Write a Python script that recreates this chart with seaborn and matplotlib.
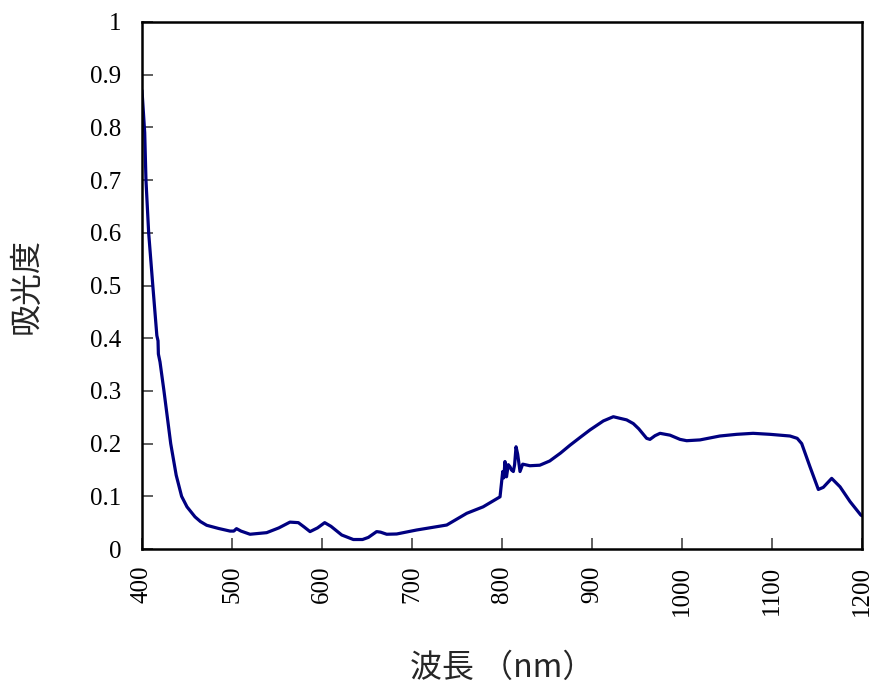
import matplotlib
matplotlib.use("Agg")
import matplotlib.pyplot as plt
import seaborn as sns
import pandas as pd

wavelength = [400, 401.5, 403, 404.4, 407.4, 412, 416.5, 417.8, 418.2, 420, 424.4,
              431.9, 438, 444, 450, 458.9, 465, 471.9, 485, 497.8, 502, 505, 510,
              520, 538.5, 552, 564.4, 573.7, 580, 586.7, 595, 603, 610, 621.9,
              634.8, 645, 651.5, 660.7, 665, 671.9, 683, 705, 738.6, 760.8, 779,
              797.8, 800.8, 802, 803.3, 805, 807, 808.9, 810.5, 812.6, 814, 815.6,
              817.4, 819, 820, 823, 831, 842, 853, 865, 875.6, 887, 897.8, 912.6,
              923.7, 931, 938.5, 945.9, 952, 960.7, 964.4, 970, 975.6, 986.7,
              997.8, 1005.2, 1020, 1042, 1060.8, 1079, 1097.8, 1120, 1128, 1133,
              1142.2, 1151.5, 1157, 1166.3, 1175.6, 1186.7, 1198.6, 1200]
absorbance = [0.87, 0.83, 0.79, 0.70, 0.60, 0.50, 0.405, 0.395, 0.37, 0.355, 0.30,
              0.20, 0.14, 0.10, 0.08, 0.061, 0.052, 0.045, 0.039, 0.034, 0.034, 0.0386, 0.034,
              0.028, 0.031, 0.040, 0.051, 0.050, 0.042, 0.033, 0.040, 0.050, 0.043, 0.0266,
              0.018, 0.018, 0.022, 0.033, 0.032, 0.028, 0.0285, 0.036, 0.0455, 0.0677, 0.080,
              0.099, 0.147, 0.135, 0.166, 0.137, 0.160, 0.156, 0.150, 0.147, 0.160, 0.194,
              0.180, 0.160, 0.147, 0.161, 0.158, 0.159, 0.167, 0.182, 0.197, 0.212, 0.226, 0.243,
              0.251, 0.248, 0.245, 0.238, 0.228, 0.210, 0.208, 0.215, 0.2195, 0.216,
              0.208, 0.2055, 0.207, 0.2144, 0.2176, 0.2195, 0.2176, 0.2144, 0.210, 0.200,
              0.156, 0.113, 0.117, 0.134, 0.118, 0.090, 0.0645, 0.063]

x_ticks = [400, 500, 600, 700, 800, 900, 1000, 1100, 1200]
x_tick_labels = ["400", "500", "600", "700", "800", "900", "1000", "1100", "1200"]
y_ticks = [0, 0.1, 0.2, 0.3, 0.4, 0.5, 0.6, 0.7, 0.8, 0.9, 1]
y_tick_labels = ["0", "0.1", "0.2", "0.3", "0.4", "0.5", "0.6", "0.7", "0.8", "0.9", "1"]
x_label = "波長 （nm）"
y_label = "吸光度"

sns.set_theme(style="white")
plt.rcParams['font.family'] = ['Noto Sans CJK JP', 'DejaVu Sans']
plt.rcParams['xtick.direction'] = 'in'
plt.rcParams['ytick.direction'] = 'in'

df = pd.DataFrame({"wl": wavelength, "abs": absorbance})

fig = plt.figure(figsize=(8.77, 6.87), dpi=100)
ax = fig.add_axes([142/877, 1 - 549/687, 720/877, 527/687])
sns.lineplot(data=df, x="wl", y="abs", ax=ax, color="#000080", linewidth=2.3,
             estimator=None, sort=False)

ax.set_xlim(400, 1200)
ax.set_ylim(0, 1)
ax.set_xticks(x_ticks)
ax.set_xticklabels(x_tick_labels, rotation=90, fontsize=18, family='Liberation Serif')
ax.set_yticks(y_ticks)
ax.set_yticklabels(y_tick_labels, fontsize=18, family='Liberation Serif')

ax.tick_params(axis='both', which='major', direction='in', length=8, width=1.2,
               color='#444444', left=True, bottom=True, right=False, top=False,
               labelcolor='black')
ax.tick_params(axis='y', pad=15)
ax.tick_params(axis='x', pad=12)

for sp in ax.spines.values():
    sp.set_visible(True)
    sp.set_color('black')
    sp.set_linewidth(1.8)

ax.set_xlabel(x_label, fontsize=23, labelpad=26)
ax.set_ylabel(y_label, fontsize=23, labelpad=34)
ax.grid(False)

fig.savefig("out.png", dpi=100)
